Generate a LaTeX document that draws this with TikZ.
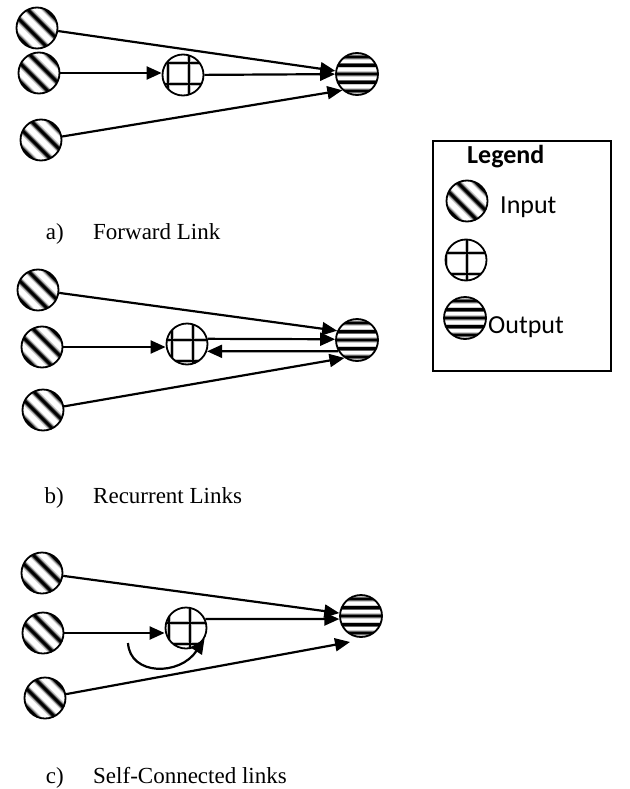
\documentclass[tikz,border=0pt]{standalone}
\usepackage{fontspec}
\setmainfont{Liberation Serif}
\newfontfamily\legendfont{Carlito}
\usetikzlibrary{arrows.meta,calc}

% diagonal stripes of an input unit, running from upper left to lower right
\newcommand\inputstripes{%
  \begin{scope}[shift={(path picture bounding box.center)}]
    \foreach \d in {-32.5,-19.5,-6.5,6.5,19.5,32.5}{
      \draw[black!20,line width=7.2pt] ({\d*0.7071-30},{\d*0.7071+30}) -- ({\d*0.7071+30},{\d*0.7071-30});
      \draw[black!60,line width=5pt] ({\d*0.7071-30},{\d*0.7071+30}) -- ({\d*0.7071+30},{\d*0.7071-30});
      \draw[black,line width=2.8pt] ({\d*0.7071-30},{\d*0.7071+30}) -- ({\d*0.7071+30},{\d*0.7071-30});
    }
  \end{scope}}

% horizontal stripes of an output unit
\newcommand\outputstripes{%
  \begin{scope}[shift={(path picture bounding box.center)}]
    \foreach \d in {-25.5,-17,-8.5,0,8.5,17,25.5}{
      \draw[black!20,line width=5.6pt] (-30,\d) -- (30,\d);
      \draw[black!60,line width=4pt] (-30,\d) -- (30,\d);
      \draw[black,line width=2.6pt] (-30,\d) -- (30,\d);
    }
  \end{scope}}

% grid of a hidden unit; #1 = x of a vertical line, #2 = y of a horizontal line
\newcommand\hiddengrid[2]{%
  \begin{scope}[shift={(path picture bounding box.center)}]
    \foreach \k in {-42,-21,0,21,42}{
      \draw[black!25,line width=4pt] ({#1+\k},-30) -- ({#1+\k},30);
      \draw[black!25,line width=4pt] (-30,{#2+\k}) -- (30,{#2+\k});
    }
    \foreach \k in {-42,-21,0,21,42}{
      \draw[black,line width=1.6pt] ({#1+\k},-30) -- ({#1+\k},30);
      \draw[black,line width=1.6pt] (-30,{#2+\k}) -- (30,{#2+\k});
    }
  \end{scope}}

\tikzset{
  neuron/.style={circle,draw,line width=1.8pt,minimum size=41pt,inner sep=0pt},
  innode/.style={neuron,path picture={\inputstripes}},
  outnode/.style={neuron,minimum size=42pt,path picture={\outputstripes}},
  hidnode/.style 2 args={neuron,path picture={\hiddengrid{#1}{#2}}},
  link/.style={line width=2.2pt,-{Triangle[length=15pt,width=13pt]}},
  caption/.style={font=\fontsize{23}{27}\selectfont,anchor=base west,inner sep=0pt},
  captag/.style={caption,anchor=base east},
  legendtext/.style={font=\legendfont\fontsize{26}{30}\selectfont,anchor=base west,inner sep=0pt},
}

\begin{document}
\begin{tikzpicture}[x=1pt,y=1pt]
\useasboundingbox (0,0) rectangle (629,-789);

% ---- a) forward link
\node[innode] (ia1) at (37,-28) {};
\node[innode] (ia2) at (39,-73) {};
\node[innode] (ia3) at (41,-140) {};
\node[hidnode={6}{-9}] (ha) at (183,-75) {};
\node[outnode] (oa) at (357,-74) {};
\draw[link] (ia1) -- (oa);
\draw[link] (ia2) -- (ia2 -| ha.west);
\draw[link] (ha) -- (oa);
\draw[link] (ia3) -- (oa.228);
\node[captag] (taga) at (64,-239) {a)};
\node[caption] (capa) at (93,-239) {Forward Link};

% ---- b) recurrent links
\node[innode] (ib1) at (38,-290) {};
\node[innode] (ib2) at (42,-347) {};
\node[innode] (ib3) at (43,-410) {};
\node[hidnode={6}{4}] (hb) at (187,-344) {};
\node[outnode] (ob) at (357,-340) {};
\draw[link] (ib1) -- (ob.155);
\draw[link] (ib2) -- (ib2 -| hb.west);
\draw[link] (hb.14) -- (ob.178);
\draw[link] (ob.211) -- (hb.-20);
\draw[link] (ib3) -- (ob.235);
\node[captag] (tagb) at (64,-503) {b)};
\node[caption] (capb) at (93,-503) {Recurrent Links};

% ---- c) self-connected links
\node[innode] (ic1) at (42,-573) {};
\node[innode] (ic2) at (43,-633) {};
\node[innode] (ic3) at (45,-698) {};
\node[hidnode={4}{5}] (hc) at (186,-628) {};
\node[outnode] (oc) at (361,-616) {};
\coordinate (ocin) at ($(oc)+(-11,-26)$);
\coordinate (selfc) at (128,-643);
\draw[link] (ic1) -- (oc);
\draw[link] (ic2) -- (ic2 -| hc.west);
\draw[link] (hc.25) -- (oc.188);
\draw[link] (ic3) -- (ocin);
\draw[link] (selfc) .. controls (130,-676) and (180,-676) .. (hc.-30);
\node[captag] (tagc) at (64,-783) {c)};
\node[caption] (capc) at (93,-783) {Self-Connected links};

% ---- legend
\node[draw,line width=1.8pt,minimum width=178pt,minimum height=230pt,inner sep=0pt] (legendbox) at (522,-256) {};
\node[legendtext] (legtitle) at (467,-163) {\bfseries Legend};
\node[innode] (li) at (467,-201) {};
\node[legendtext] (lit) at (500,-213) {Input};
\node[hidnode={1}{7}] (lh) at (466,-260) {};
\node[outnode] (lo) at (465,-318) {};
\node[legendtext] (lot) at (488,-333) {Output};
\end{tikzpicture}
\end{document}
